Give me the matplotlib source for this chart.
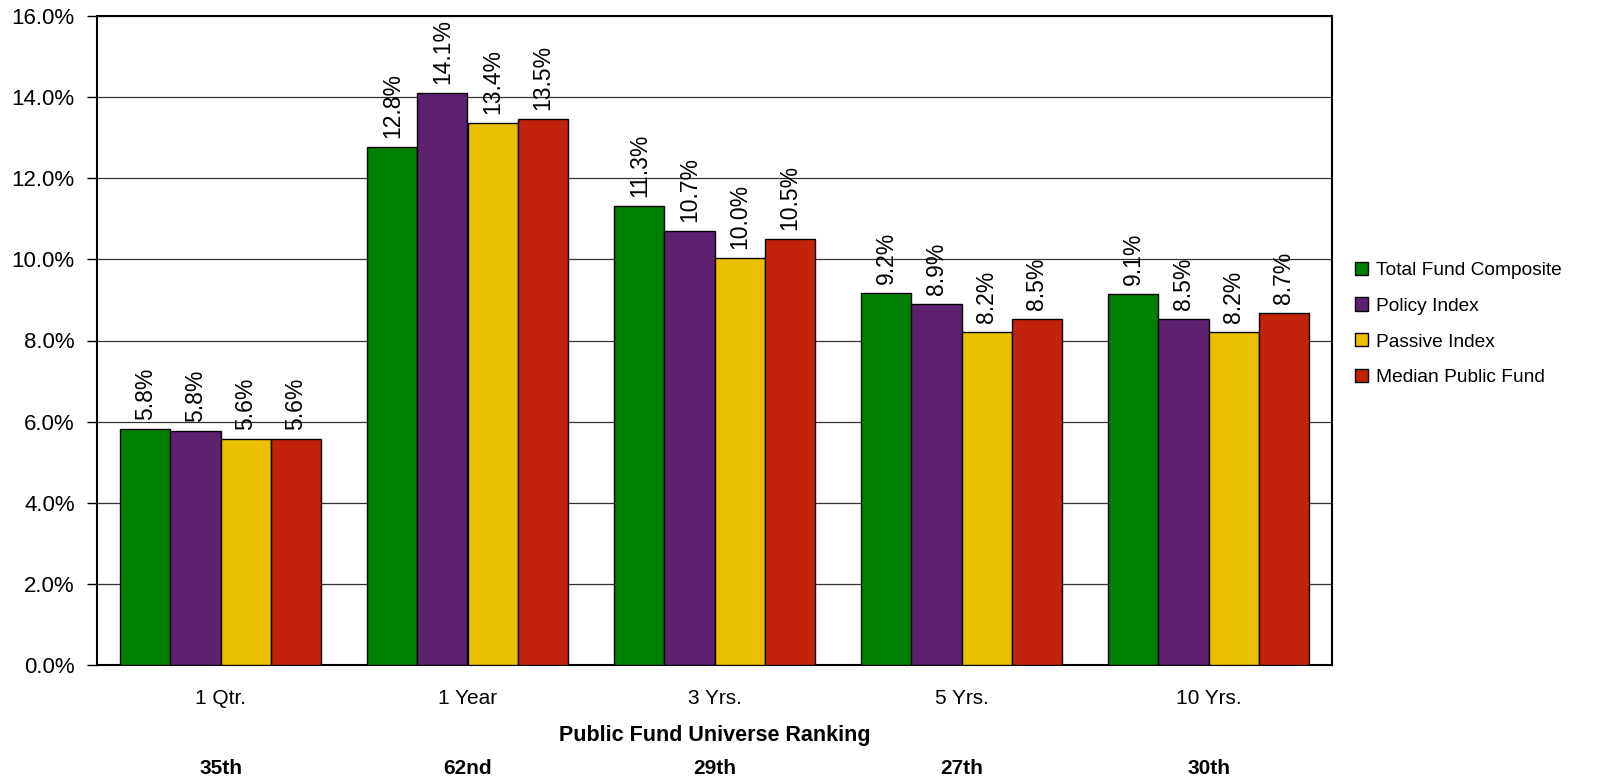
import matplotlib
matplotlib.use("Agg")
import matplotlib.pyplot as plt
import matplotlib.transforms as mtransforms
import numpy as np

plt.rcParams['font.family'] = ['Liberation Sans', 'DejaVu Sans']

categories = ["1 Qtr.", "1 Year", "3 Yrs.", "5 Yrs.", "10 Yrs."]
rankings = ["35th", "62nd", "29th", "27th", "30th"]
series_names = ["Total Fund Composite", "Policy Index", "Passive Index", "Median Public Fund"]
total_fund = [5.81, 12.78, 11.32, 9.16, 9.14]
policy_index = [5.76, 14.09, 10.69, 8.91, 8.53]
passive_index = [5.56, 13.36, 10.04, 8.20, 8.20]
median_fund = [5.56, 13.46, 10.49, 8.53, 8.68]
colors = ["#008000", "#5E2170", "#EBC000", "#C3230B"]

series = [total_fund, policy_index, passive_index, median_fund]

fig = plt.figure(figsize=(15.99, 7.79), dpi=100)
ax = fig.add_axes([97/1599, 1-665/779, (1332-97)/1599, (665-16)/779])

x = np.arange(len(categories))
w = 0.2025
for i, (vals, name, c) in enumerate(zip(series, series_names, colors)):
    pos = x + (i - 1.5) * w
    ax.bar(pos, vals, width=w, color=c, edgecolor="black", linewidth=1.0,
           label=name, zorder=3)
    for p, v in zip(pos, vals):
        ax.annotate(f"{v:.1f}%", (p, v), xytext=(0, 6.5), textcoords="offset points",
                    rotation=90, ha="center", va="bottom", fontsize=16.5, zorder=4)

ax.set_xlim(-0.5, len(categories) - 0.5)
ax.set_ylim(0, 16)
yt = np.arange(0, 16.1, 2)
ax.set_yticks(yt)
ax.set_yticklabels([f"{t:.1f}%" for t in yt], fontsize=16)
ax.set_xticks([])
ax.yaxis.grid(True, color="#333333", linewidth=0.9, zorder=0)
ax.set_axisbelow(True)
ax.tick_params(axis="y", length=7, width=1, direction="out", pad=9)
for s in ax.spines.values():
    s.set_linewidth(1.5)
    s.set_color("black")

trans = mtransforms.blended_transform_factory(ax.transData, fig.transFigure)
for xi, cat, rk in zip(x, categories, rankings):
    ax.text(xi, 1 - 699/779, cat, transform=trans, ha="center", va="center", fontsize=15)
    ax.text(xi, 1 - 768/779, rk, transform=trans, ha="center", va="center",
            fontsize=15, fontweight="bold")
ax.text(2, 1 - 735/779, "Public Fund Universe Ranking", transform=trans, ha="center",
        va="center", fontsize=15.5, fontweight="bold")

leg = fig.legend(*ax.get_legend_handles_labels(), loc="center left",
                 bbox_to_anchor=(1355/1599, 1 - 324/779), frameon=False,
                 fontsize=13.8, handlelength=0.68, handleheight=0.68, labelspacing=0.97,
                 handletextpad=0.4, borderaxespad=0, borderpad=0)

fig.savefig("out.png", dpi=100)
